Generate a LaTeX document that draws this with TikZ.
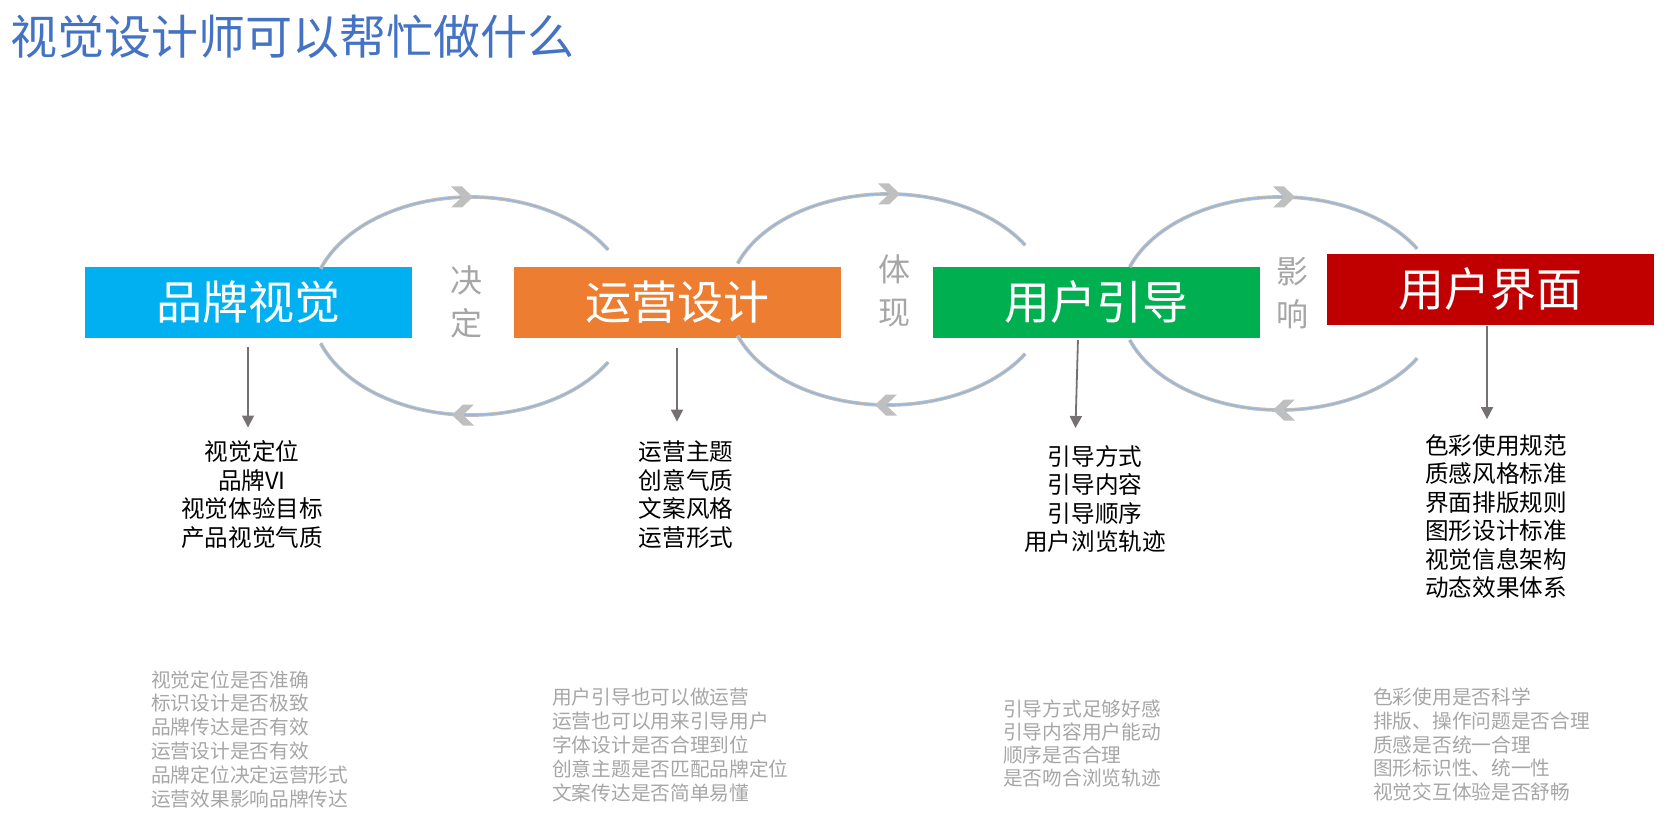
\documentclass[tikz,border=0pt]{standalone}
\usepackage{fontspec}
\setmainfont{Noto Sans CJK SC}
\usetikzlibrary{arrows.meta}
\definecolor{titleblue}{HTML}{4472C4}
\definecolor{brandcyan}{HTML}{00B0F0}
\definecolor{opsorange}{HTML}{ED7D31}
\definecolor{guidegreen}{HTML}{00B050}
\definecolor{uired}{HTML}{C00000}
\definecolor{softgray}{HTML}{A6A6A6}
\definecolor{arrowgray}{HTML}{767171}
\definecolor{cyclegray}{HTML}{BFBFBF}
\definecolor{cycleblue}{HTML}{8FB4DE}
\tikzset{
  stage/.style   = {rectangle, inner sep=0pt, minimum width=327pt,
                    minimum height=71pt, text=white,
                    font=\fontsize{46}{46}\selectfont},
  verb/.style    = {align=center, inner sep=0pt, text=softgray,
                    font=\fontsize{32}{43}\selectfont},
  facts/.style   = {align=center, inner sep=0pt,
                    font=\fontsize{23.6}{28.5}\selectfont},
  notes/.style   = {align=left, anchor=west, inner sep=0pt, text=softgray,
                    font=\fontsize{19.7}{23.8}\selectfont},
  feed/.style    = {-{Triangle[length=12pt,width=12pt]}, line width=1.8pt,
                    draw=arrowgray},
  cycline/.style = {draw=cyclegray, double=cycleblue, double distance=1.1pt,
                    line width=1.3pt},
  chev/.pic      = {\fill[cyclegray] (0,0) -- (-11,10.5) -- (-22,10.5)
                    -- (-11,0) -- (-22,-10.5) -- (-11,-10.5) -- cycle;},
}

\begin{document}
\begin{tikzpicture}[x=1pt,y=1pt]
\useasboundingbox (0,0) rectangle (1667,-821);
\node[anchor=west, inner sep=0pt, text=titleblue,
      font=\fontsize{47}{47}\selectfont] (title) at (10,-37) {视觉设计师可以帮忙做什么};

% four stages
\node[stage, fill=brandcyan]  (b1) at (248,-302.5)  {品牌视觉};
\node[stage, fill=opsorange]  (b2) at (677,-302.5)  {运营设计};
\node[stage, fill=guidegreen] (b3) at (1096.5,-302.5) {用户引导};
\node[stage, fill=uired]      (b4) at (1490,-289.5) {用户界面};

% loops between stages
\coordinate (c1) at (471,-306);
\coordinate (c2) at (888,-299.5);
\coordinate (c3) at (1280,-303.5);
\draw[cycline] (c1) ++(160:160 and 109) arc[start angle=160, end angle=31, x radius=160, y radius=109];
\draw[cycline] (c1) ++(200:160 and 109) arc[start angle=200, end angle=329, x radius=160, y radius=109];
\draw[cycline] (c2) ++(160:160 and 105.5) arc[start angle=160, end angle=31, x radius=160, y radius=105.5];
\draw[cycline] (c2) ++(200:160 and 105.5) arc[start angle=200, end angle=329, x radius=160, y radius=105.5];
\draw[cycline] (c3) ++(160:160 and 106.5) arc[start angle=160, end angle=31, x radius=160, y radius=106.5];
\draw[cycline] (c3) ++(200:160 and 106.5) arc[start angle=200, end angle=329, x radius=160, y radius=106.5];
\pic at (473,-197) {chev};
\pic[rotate=180] at (452,-415) {chev};
\pic at (900,-194) {chev};
\pic[rotate=180] at (875,-405) {chev};
\pic at (1295,-197) {chev};
\pic[rotate=180] at (1273,-410) {chev};

\node[verb] (v1) at (466,-302) {决\\定};
\node[verb] (v2) at (894,-291) {体\\现};
\node[verb] (v3) at (1292,-293) {影\\响};

% what each stage covers
\node[facts] (l1) at (252,-494.5) {视觉定位\\品牌VI\\视觉体验目标\\产品视觉气质};
\node[facts] (l2) at (686,-494.5) {运营主题\\创意气质\\文案风格\\运营形式};
\node[facts] (l3) at (1095,-499) {引导方式\\引导内容\\引导顺序\\用户浏览轨迹};
\node[facts] (l4) at (1496,-516.5) {色彩使用规范\\质感风格标准\\界面排版规则\\图形设计标准\\视觉信息架构\\动态效果体系};

\draw[feed, shorten <=9pt, shorten >=13pt] (b1.south) -- (b1.south |- l1.north);
\draw[feed, shorten <=10pt, shorten >=19pt] (b2.south) -- (b2.south |- l2.north);
\draw[feed, shorten <=2pt, shorten >=17pt] ([xshift=-18.5pt]b3.south) -- ([xshift=-21.5pt]b3.south |- l3.north);
\draw[feed, shorten <=1pt, shorten >=15pt] ([xshift=-3pt]b4.south) -- ([xshift=-3pt]b4.south |- l4.north);

% review questions
\node[notes] (n1) at (151,-739) {视觉定位是否准确\\标识设计是否极致\\品牌传达是否有效\\运营设计是否有效\\品牌定位决定运营形式\\运营效果影响品牌传达};
\node[notes] (n2) at (552,-745) {用户引导也可以做运营\\运营也可以用来引导用户\\字体设计是否合理到位\\创意主题是否匹配品牌定位\\文案传达是否简单易懂};
\node[notes, font=\fontsize{19.7}{23}\selectfont] (n3) at (1003,-743) {引导方式足够好感\\引导内容用户能动\\顺序是否合理\\是否吻合浏览轨迹};
\node[notes] (n4) at (1373,-744.5) {色彩使用是否科学\\排版、操作问题是否合理\\质感是否统一合理\\图形标识性、统一性\\视觉交互体验是否舒畅};
\end{tikzpicture}
\end{document}
